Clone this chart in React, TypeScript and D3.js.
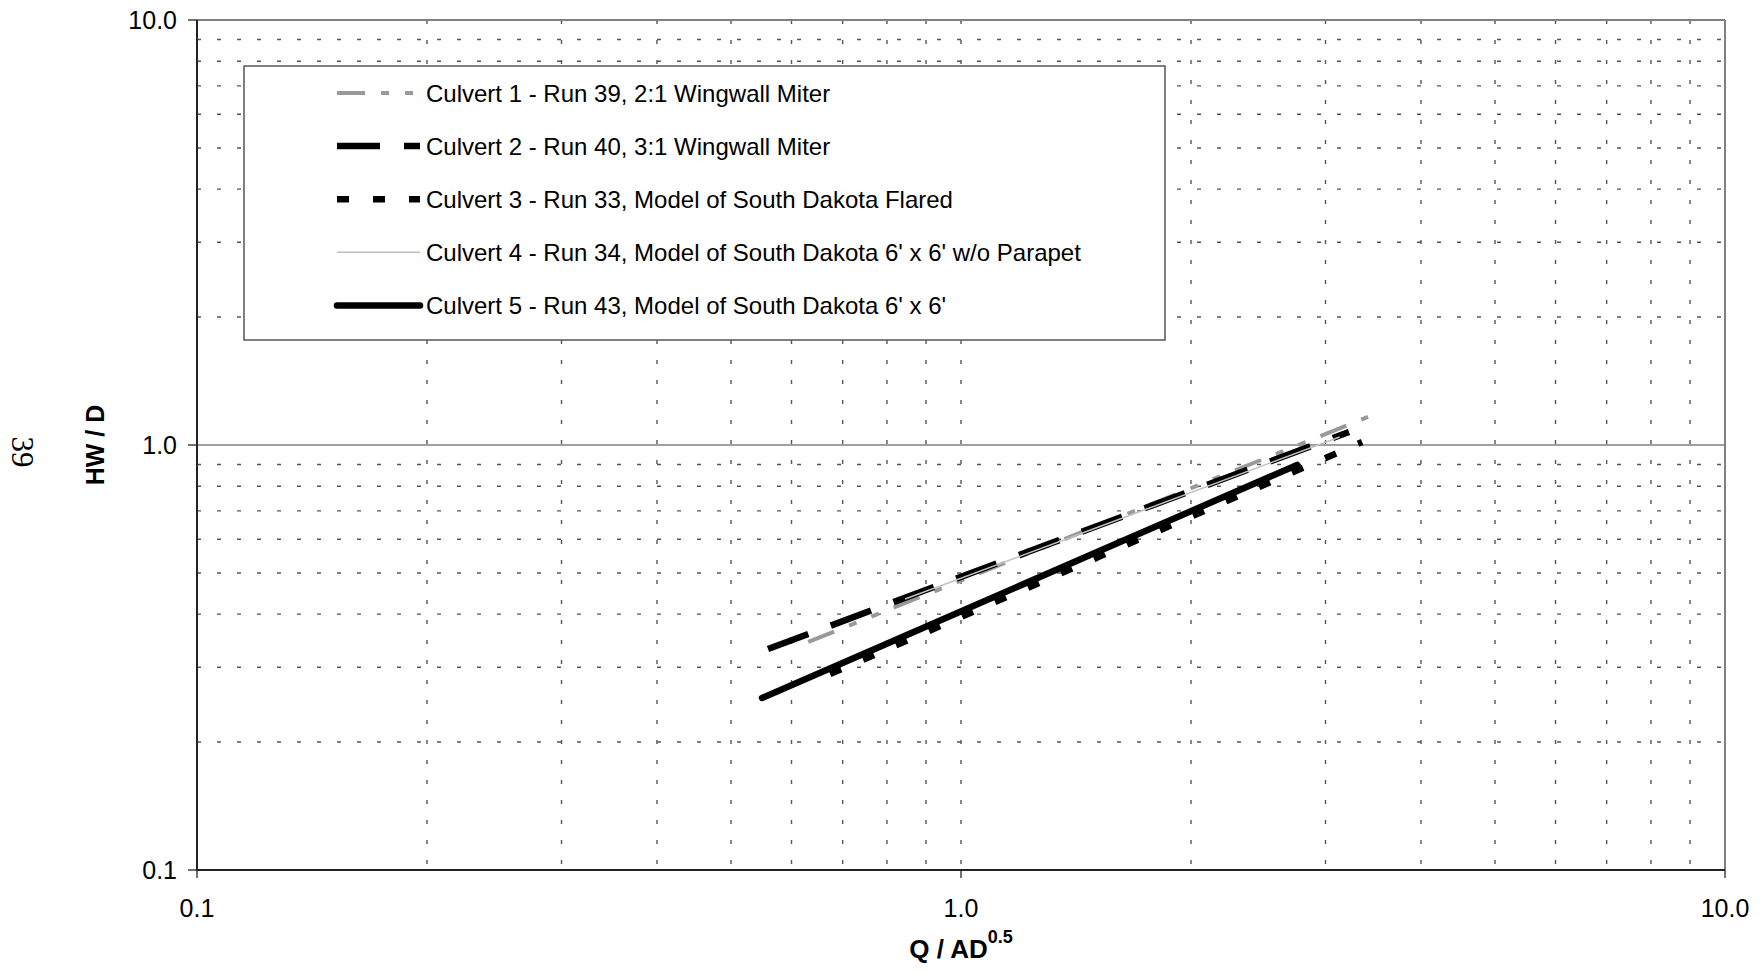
import React from "react";
import * as d3 from "d3";

// ---- data ----
const majorTicks = [0.1, 1, 10];
const majorTickLabels = ["0.1", "1.0", "10.0"];

const culvert1X = [0.631, 1.52, 3.41];
const culvert1Y = [0.344, 0.649, 1.164];

const culvert2X = [0.559, 1.307, 3.22];
const culvert2Y = [0.331, 0.586, 1.073];

const culvert3X = [0.674, 1.52, 3.35];
const culvert3Y = [0.289, 0.547, 1.016];

const culvert4X = [0.845, 1.52, 3.13];
const culvert4Y = [0.434, 0.643, 1.044];

const culvert5X = [0.549, 0.832, 1.52, 2.754];
const culvert5Y = [0.254, 0.3516, 0.5637, 0.8975];

const seriesNames = [
  "Culvert 1 - Run 39, 2:1 Wingwall Miter",
  "Culvert 2 - Run 40, 3:1 Wingwall Miter",
  "Culvert 3 - Run 33, Model of South Dakota Flared",
  "Culvert 4 - Run 34, Model of South Dakota 6' x 6' w/o Parapet",
  "Culvert 5 - Run 43, Model of South Dakota 6' x 6'",
];

const seriesStyles = [
  { color: "#999999", width: 4, dash: "28,16,8,16,8,16", cap: "butt" },
  { color: "#000000", width: 6.5, dash: "43,24", cap: "butt" },
  { color: "#000000", width: 6.5, dash: "12,24", cap: "butt" },
  { color: "#c0c0c0", width: 1.5, dash: "none", cap: "butt" },
  { color: "#000000", width: 6.5, dash: "none", cap: "round" },
];

const W = 1762;
const H = 974;
const L = 197, R = 1725, T = 20, B = 870;
const FONT = "'Liberation Sans', Arial, sans-serif";

export default function App() {
  const x = d3.scaleLog().domain([0.1, 10]).range([L, R]);
  const y = d3.scaleLog().domain([0.1, 10]).range([B, T]);

  const minorX = x.ticks().filter((t) => t > 0.1 + 1e-9 && t < 10 - 1e-9);
  const minorY = y.ticks().filter((t) => t > 0.1 + 1e-9 && t < 10 - 1e-9 && Math.abs(t - 1) > 1e-9);

  const series = [
    culvert1X.map((v, i) => [v, culvert1Y[i]]),
    culvert2X.map((v, i) => [v, culvert2Y[i]]),
    culvert3X.map((v, i) => [v, culvert3Y[i]]),
    culvert4X.map((v, i) => [v, culvert4Y[i]]),
    culvert5X.map((v, i) => [v, culvert5Y[i]]),
  ];

  const line = d3
    .line<number[]>()
    .x((d) => x(d[0]))
    .y((d) => y(d[1]));

  const legX0 = 244, legY0 = 66, legX1 = 1165, legY1 = 340;
  const rowY = (i: number) => 93 + i * 53.1;

  return (
    <svg
      width={W}
      height={H}
      style={{ position: "absolute", left: 0, top: 0, background: "#fff" }}
      fontFamily={FONT}
    >
      <rect x={0} y={0} width={W} height={H} fill="#fff" />
      {minorX.map((t, i) => (
        <line
          key={"vx" + i}
          x1={x(t)}
          x2={x(t)}
          y1={T}
          y2={B}
          stroke="#555"
          strokeWidth={1.4}
          strokeDasharray="4,16"
        />
      ))}
      {minorY.map((t, i) => (
        <line
          key={"hy" + i}
          x1={L}
          x2={R}
          y1={y(t)}
          y2={y(t)}
          stroke="#555"
          strokeWidth={1.4}
          strokeDasharray="4,16"
        />
      ))}
      <line x1={L} x2={R} y1={y(1)} y2={y(1)} stroke="#808080" strokeWidth={1.5} />
      <line x1={L} x2={R} y1={T} y2={T} stroke="#808080" strokeWidth={2} />
      <line x1={R} x2={R} y1={T} y2={B} stroke="#808080" strokeWidth={2} />
      <line x1={L} x2={L} y1={T} y2={B} stroke="#222" strokeWidth={2} />
      <line x1={L} x2={R} y1={B} y2={B} stroke="#222" strokeWidth={2} />
      {majorTicks.map((t, i) => (
        <g key={"mt" + i}>
          <line x1={L - 9} x2={L} y1={y(t)} y2={y(t)} stroke="#222" strokeWidth={1.3} />
          <line x1={x(t)} x2={x(t)} y1={B} y2={B + 8} stroke="#222" strokeWidth={1.3} />
          <text x={177} y={y(t) + 9} fontSize={25} textAnchor="end" fill="#000">
            {majorTickLabels[i]}
          </text>
          <text x={x(t)} y={917} fontSize={25} textAnchor="middle" fill="#000">
            {majorTickLabels[i]}
          </text>
        </g>
      ))}

      <rect
        x={legX0}
        y={legY0}
        width={legX1 - legX0}
        height={legY1 - legY0}
        fill="#fff"
        stroke="#555"
        strokeWidth={1.5}
      />
      {seriesNames.map((name, i) => {
        const s = seriesStyles[i];
        return (
          <g key={"lg" + i}>
            <line
              x1={337}
              x2={420}
              y1={rowY(i)}
              y2={rowY(i)}
              stroke={s.color}
              strokeWidth={s.width}
              strokeDasharray={s.dash}
              strokeLinecap={s.cap as any}
            />
            <text x={426} y={rowY(i) + 8.6} fontSize={24} fill="#000">
              {name}
            </text>
          </g>
        );
      })}

      {series.map((pts, i) => {
        const s = seriesStyles[i];
        return (
          <path
            key={"s" + i}
            d={line(pts) || ""}
            fill="none"
            stroke={s.color}
            strokeWidth={s.width}
            strokeDasharray={s.dash}
            strokeLinecap={s.cap as any}
            strokeLinejoin="round"
          />
        );
      })}

      <text x={961} y={958} fontSize={26} fontWeight="bold" textAnchor="middle" fill="#000">
        Q / AD
        <tspan fontSize={18} dy={-15}>0.5</tspan>
      </text>
      <text
        transform={`translate(104,445) rotate(-90)`}
        fontSize={25}
        fontWeight="bold"
        textAnchor="middle"
        fill="#000"
      >
        HW / D
      </text>
      <text
        transform={`translate(12,452) rotate(90)`}
        fontSize={31}
        fontFamily="'Liberation Serif', 'Times New Roman', serif"
        textAnchor="middle"
        fill="#000"
      >
        39
      </text>
    </svg>
  );
}
